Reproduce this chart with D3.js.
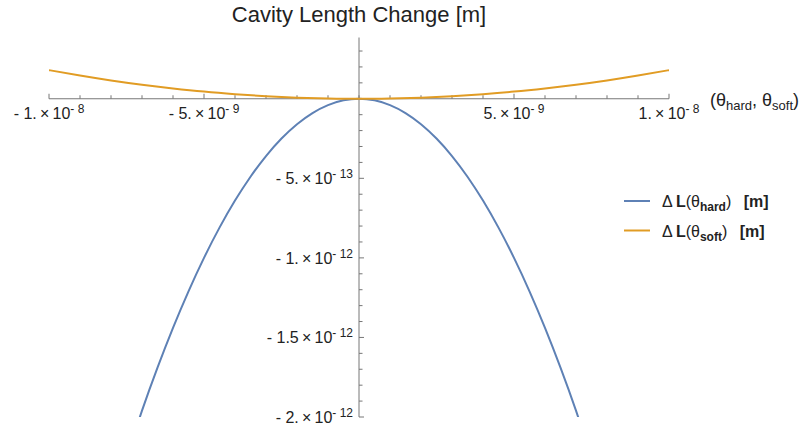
<!DOCTYPE html>
<meta charset="utf-8">
<html>
<head>
<style>
  body { margin: 0; background: #fff; }
  text { font-family: "Liberation Sans", Arial, sans-serif; fill: #222; }
</style>
</head>
<body>
<div id="my_dataviz"></div>

<script src="https://d3js.org/d3.v7.min.js"></script>
<script>

  // angle samples (rad) and cavity length change (m)
  var thetaHard = [-7.5e-9, -7e-9, -6.5e-9, -6e-9, -5.5e-9, -5e-9, -4.5e-9, -4e-9, -3.5e-9, -3e-9,
                   -2.5e-9, -2e-9, -1.5e-9, -1e-9, -0.5e-9, 0, 0.5e-9, 1e-9, 1.5e-9, 2e-9,
                   2.5e-9, 3e-9, 3.5e-9, 4e-9, 4.5e-9, 5e-9, 5.5e-9, 6e-9, 6.5e-9, 7e-9, 7.5e-9];
  var lengthHard = [-2.25e-12, -1.96e-12, -1.69e-12, -1.44e-12, -1.21e-12, -1.0e-12, -8.1e-13, -6.4e-13, -4.9e-13, -3.6e-13,
                    -2.5e-13, -1.6e-13, -9e-14, -4e-14, -1e-14, 0, -1e-14, -4e-14, -9e-14, -1.6e-13,
                    -2.5e-13, -3.6e-13, -4.9e-13, -6.4e-13, -8.1e-13, -1.0e-12, -1.21e-12, -1.44e-12, -1.69e-12, -1.96e-12, -2.25e-12];

  var thetaSoft = [-1e-8, -9e-9, -8e-9, -7e-9, -6e-9, -5e-9, -4e-9, -3e-9, -2e-9, -1e-9, 0,
                   1e-9, 2e-9, 3e-9, 4e-9, 5e-9, 6e-9, 7e-9, 8e-9, 9e-9, 1e-8];
  var lengthSoft = [1.8e-13, 1.46e-13, 1.15e-13, 8.8e-14, 6.5e-14, 4.5e-14, 2.9e-14, 1.6e-14, 7e-15, 2e-15, 0,
                    2e-15, 7e-15, 1.6e-14, 2.9e-14, 4.5e-14, 6.5e-14, 8.8e-14, 1.15e-13, 1.46e-13, 1.8e-13];

  var xMajorTicks = [-1e-8, -5e-9, 5e-9, 1e-8];
  var xTickMantissa = ["- 1.", "- 5.", "5.", "1."];
  var xTickExponent = ["- 8", "- 9", "- 9", "- 8"];

  var yMajorTicks = [-5e-13, -1e-12, -1.5e-12, -2e-12];
  var yTickMantissa = ["- 5.", "- 1.", "- 1.5", "- 2."];
  var yTickExponent = ["- 13", "- 12", "- 12", "- 12"];

  var seriesNames = ["hard", "soft"];
  var colors = ["#5e81b5", "#e19c24"];

  var width = 811, height = 435;

  var svg = d3.select("#my_dataviz")
    .append("svg")
      .attr("width", width)
      .attr("height", height);

  var x = d3.scaleLinear().domain([-1e-8, 1e-8]).range([49, 669]);
  var y = d3.scaleLinear().domain([-2e-12, 3.85e-13]).range([417, 37.5]);

  svg.append("clipPath").attr("id", "plotclip")
    .append("rect")
      .attr("x", x(-1e-8)).attr("y", y(3.85e-13))
      .attr("width", x(1e-8) - x(-1e-8))
      .attr("height", y(-2e-12) - y(3.85e-13));

  var axisColor = "#777";

  // builds "mantissa x 10^exp" as tspans
  function sciLabel(sel, mant, expo) {
    sel.append("tspan").text(function(d, i) { return mant[i] + "\u2009\u00d7\u200910"; });
    sel.append("tspan").attr("dy", -6).style("font-size", "12px")
      .text(function(d, i) { return expo[i]; });
  }

  // x axis (ticks point up)
  var xAxis = svg.append("g");
  xAxis.append("line")
    .attr("x1", x(-1e-8)).attr("x2", x(1e-8))
    .attr("y1", y(0)).attr("y2", y(0))
    .attr("stroke", axisColor).attr("stroke-width", 1);
  var xMinor = d3.range(-10, 11).map(function(i) { return i * 1e-9; });
  xAxis.selectAll("line.minor")
    .data(xMinor)
    .enter().append("line")
      .attr("class", "minor")
      .attr("x1", function(d) { return x(d); }).attr("x2", function(d) { return x(d); })
      .attr("y1", y(0)).attr("y2", function(d) { return xMajorTicks.indexOf(d) >= 0 ? y(0) - 5 : y(0) - 3.5; })
      .attr("stroke", axisColor).attr("stroke-width", 1);

  var xLabels = xAxis.selectAll("text.tick")
    .data(xMajorTicks)
    .enter().append("text")
      .attr("class", "tick")
      .attr("x", function(d) { return x(d); })
      .attr("y", y(0) + 20)
      .attr("text-anchor", "middle")
      .style("font-size", "16px");
  sciLabel(xLabels, xTickMantissa, xTickExponent);

  // y axis (ticks point right)
  var yAxis = svg.append("g");
  yAxis.append("line")
    .attr("x1", x(0)).attr("x2", x(0))
    .attr("y1", y(3.85e-13)).attr("y2", y(-2e-12))
    .attr("stroke", axisColor).attr("stroke-width", 1);
  var yMinor = d3.range(-20, 4).map(function(i) { return i * 1e-13; });
  yAxis.selectAll("line.minor")
    .data(yMinor)
    .enter().append("line")
      .attr("class", "minor")
      .attr("y1", function(d) { return y(d); }).attr("y2", function(d) { return y(d); })
      .attr("x1", x(0)).attr("x2", function(d, i) { return (i % 5 === 0) ? x(0) + 5 : x(0) + 3.5; })
      .attr("stroke", axisColor).attr("stroke-width", 1);

  var yLabels = yAxis.selectAll("text.tick")
    .data(yMajorTicks)
    .enter().append("text")
      .attr("class", "tick")
      .attr("x", x(0) - 6)
      .attr("y", function(d) { return y(d) + 6; })
      .attr("text-anchor", "end")
      .style("font-size", "16px");
  sciLabel(yLabels, yTickMantissa, yTickExponent);

  // title
  svg.append("text")
    .attr("x", x(0))
    .attr("y", 22)
    .attr("text-anchor", "middle")
    .style("font-size", "22px")
    .text("Cavity Length Change [m]");

  // x axis label
  var xl = svg.append("text")
    .attr("x", 710)
    .attr("y", y(0) + 7)
    .style("font-size", "18px");
  xl.append("tspan").text("(\u03b8");
  xl.append("tspan").attr("dy", 4).style("font-size", "13px").text("hard");
  xl.append("tspan").attr("dy", -4).text(", \u03b8");
  xl.append("tspan").attr("dy", 4).style("font-size", "13px").text("soft");
  xl.append("tspan").attr("dy", -4).text(")");

  // curves
  var line = d3.line()
    .x(function(d) { return x(d[0]); })
    .y(function(d) { return y(d[1]); })
    .curve(d3.curveNatural);

  var plot = svg.append("g").attr("clip-path", "url(#plotclip)");
  plot.append("path")
    .datum(d3.zip(thetaHard, lengthHard))
    .attr("fill", "none")
    .attr("stroke", colors[0])
    .attr("stroke-width", 2)
    .attr("d", line);
  plot.append("path")
    .datum(d3.zip(thetaSoft, lengthSoft))
    .attr("fill", "none")
    .attr("stroke", colors[1])
    .attr("stroke-width", 2)
    .attr("d", line);

  // legend
  var legend = svg.append("g");
  seriesNames.forEach(function(name, i) {
    var ly = 201 + i * 29.5;
    legend.append("line")
      .attr("x1", 624).attr("x2", 650)
      .attr("y1", ly).attr("y2", ly)
      .attr("stroke", colors[i]).attr("stroke-width", 2);
    var t = legend.append("text")
      .attr("x", 662)
      .attr("y", ly + 6)
      .style("font-size", "16px");
    t.append("tspan").text("\u0394\u2009");
    t.append("tspan").style("font-weight", "bold").text("L");
    t.append("tspan").text("(\u03b8");
    t.append("tspan").attr("dy", 4).style("font-size", "12px").style("font-weight", "bold").text(name);
    t.append("tspan").attr("dy", -4).text(")\u2002 ");
    t.append("tspan").style("font-weight", "bold").text("[m]");
  });

</script>
</body>
</html>
